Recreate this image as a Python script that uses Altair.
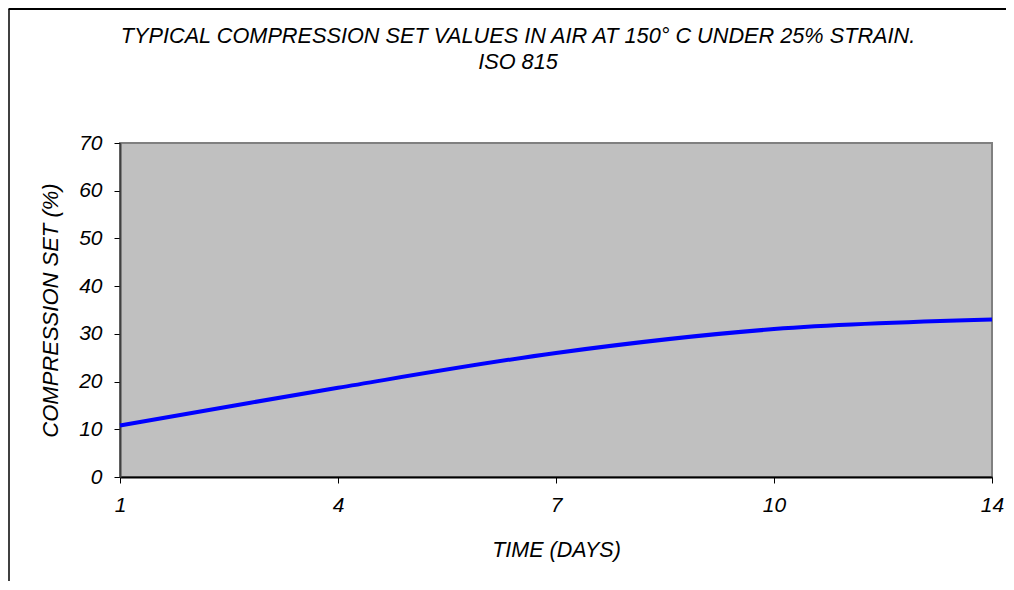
import altair as alt
import pandas as pd

days = ["1", "4", "7", "10", "14"]
compression_set = [10.8, 18.7, 26.0, 31.0, 33.0]
y_ticks = [0, 10, 20, 30, 40, 50, 60, 70]
title_lines = ["TYPICAL COMPRESSION SET VALUES IN AIR AT 150\u00b0 C UNDER 25% STRAIN.", "ISO 815"]

df = pd.DataFrame({"day": days, "value": compression_set})
FONT = "Liberation Sans"

line = alt.Chart(df).mark_line(
    color="#0000FF", strokeWidth=4, interpolate="cardinal"
).encode(
    x=alt.X("day:O", sort=days,
            scale=alt.Scale(type="point", padding=0),
            axis=alt.Axis(title="TIME (DAYS)", labelAngle=0, labelFontSize=21,
                          labelFont=FONT, labelFontStyle="italic", labelColor="black",
                          labelPadding=11, tickSize=6, tickColor="black",
                          domainColor="black", domainWidth=2,
                          titleFont=FONT, titleFontSize=21.5, titleFontStyle="italic",
                          titleFontWeight="normal", titleColor="black",
                          titleY=73, titleBaseline="middle")),
    y=alt.Y("value:Q", scale=alt.Scale(domain=[0, 70]),
            axis=alt.Axis(title="COMPRESSION SET (%)", values=y_ticks, grid=False,
                          labelFontSize=21, labelFont=FONT, labelFontStyle="italic",
                          labelColor="black", labelPadding=12, tickSize=6,
                          tickColor="black", domainColor="#404040", domainWidth=2,
                          titleFont=FONT, titleFontSize=22, titleFontStyle="italic",
                          titleFontWeight="normal", titleColor="black",
                          titleX=-70, titleBaseline="middle")),
)

frame_df = pd.DataFrame({"k": [0]})
top_rule = alt.Chart(frame_df).mark_rule(color="black", strokeWidth=2).encode(
    x=alt.value(-111.5), x2=alt.value(890), y=alt.value(-134)
)
left_rule = alt.Chart(frame_df).mark_rule(color="black", strokeWidth=1.5).encode(
    x=alt.value(-111), y=alt.value(-134), y2=alt.value(450)
)
title1 = alt.Chart(frame_df).mark_text(
    font=FONT, fontSize=21.7, fontStyle="italic", color="black",
    align="center", baseline="middle"
).encode(x=alt.value(398), y=alt.value(-107), text=alt.value(title_lines[0]))
title2 = alt.Chart(frame_df).mark_text(
    font=FONT, fontSize=21.7, fontStyle="italic", color="black",
    align="center", baseline="middle"
).encode(x=alt.value(398), y=alt.value(-81), text=alt.value(title_lines[1]))

chart = alt.layer(line, top_rule, left_rule, title1, title2).properties(
    width=872, height=334,
    autosize=alt.AutoSizeParams(type="none"),
    padding={"left": 112, "top": 135, "right": 14, "bottom": 104},
    background="white",
).configure_view(
    fill="#C0C0C0", stroke="#808080", strokeWidth=2
)

chart.save("out.html", embed_options={"renderer": "svg", "actions": False})
